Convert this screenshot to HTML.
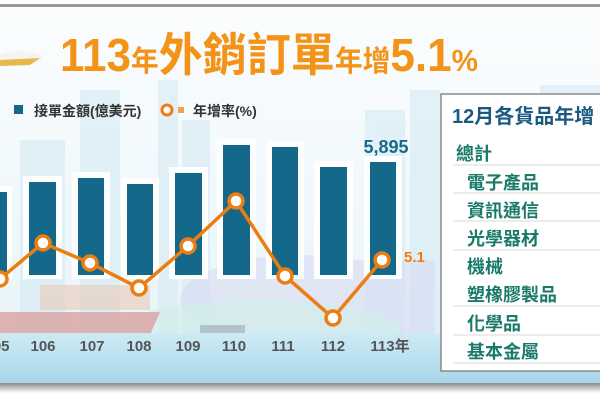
<!DOCTYPE html>
<html><head><meta charset="utf-8"><style>
body{margin:0;width:600px;height:400px;overflow:hidden;background:#fff;font-family:"Liberation Sans","Noto Sans CJK TC",sans-serif}
</style></head><body>
<svg width="600" height="400" xmlns="http://www.w3.org/2000/svg" style="position:absolute;left:0;top:0">
<defs>
<linearGradient id="sky" x1="0" y1="0" x2="0" y2="1"><stop offset="0" stop-color="#fbfdfe"/><stop offset="1" stop-color="#e6f3f8"/></linearGradient>
<linearGradient id="sea" x1="0" y1="0" x2="0" y2="1"><stop offset="0" stop-color="#cdebf4"/><stop offset="1" stop-color="#a9d6ea"/></linearGradient>
<linearGradient id="sh" x1="0" y1="0" x2="0" y2="1"><stop offset="0" stop-color="#8a8a8a"/><stop offset="1" stop-color="#fff"/></linearGradient>
</defs>
<rect x="0" y="0" width="600" height="400" fill="#fff"/>
<rect x="0" y="4" width="600" height="3" fill="#9a9a9a"/>
<rect x="0" y="7" width="600" height="376" fill="url(#sky)"/>
<g fill="#d6ebf5" opacity="0.6">
<rect x="20" y="140" width="45" height="200"/><rect x="80" y="90" width="40" height="250"/><rect x="158" y="80" width="20" height="260"/>
<rect x="182" y="120" width="28" height="220"/><rect x="365" y="110" width="40" height="230"/><rect x="410" y="90" width="30" height="250"/>
<rect x="540" y="85" width="60" height="20"/>
</g>
<g fill="#d9dcf2" opacity="0.6"><rect x="235" y="260" width="200" height="75"/><ellipse cx="300" cy="300" rx="120" ry="45"/></g>
<ellipse cx="260" cy="330" rx="140" ry="30" fill="#d2eeea" opacity="0.7"/>
<rect x="40" y="285" width="110" height="25" fill="#e8c9b5" opacity="0.6"/>
<path d="M0 312 L160 312 L150 335 L0 335Z" fill="#d9a3a0" opacity="0.8"/>
<rect x="200" y="325" width="45" height="8" fill="#9aa8b5" opacity="0.6"/>
<rect x="0" y="333" width="600" height="50" fill="url(#sea)"/>
<rect x="0" y="383" width="600" height="10" fill="url(#sh)"/>
<ellipse cx="20" cy="58" rx="22" ry="7" fill="#f4f4f0"/><path d="M0 60 L40 58 L30 65 L0 66Z" fill="#e7b84a"/>
<text x="60" y="71" fill="#f39418" font-weight="bold" font-size="46" textLength="418" lengthAdjust="spacingAndGlyphs">113<tspan font-size="29">年</tspan>外銷訂單<tspan font-size="29">年增</tspan>5.1<tspan font-size="31">%</tspan></text>
<rect x="14" y="105" width="9" height="9" fill="#14698a"/>
<text x="34" y="116" font-size="14" font-weight="bold" fill="#333">接單金額(億美元)</text>
<circle cx="167" cy="110" r="5" fill="#fff" stroke="#ec7d12" stroke-width="3"/>
<rect x="178" y="107" width="6" height="6" fill="#f5a04a"/>
<text x="193" y="116" font-size="14" font-weight="bold" fill="#333">年增率(%)</text>
<g fill="#fff" opacity="0.95">
<rect x="-4" y="186" width="16" height="93"/><rect x="23" y="176" width="39" height="103"/><rect x="72" y="172" width="38" height="107"/>
<rect x="121" y="178" width="38" height="101"/><rect x="169" y="167" width="39" height="112"/><rect x="217" y="139" width="39" height="140"/>
<rect x="266" y="141" width="38" height="138"/><rect x="314" y="161" width="39" height="118"/><rect x="364" y="156" width="38" height="123"/>
</g>
<g fill="#14698a">
<rect x="0" y="192" width="7" height="83"/><rect x="29" y="182" width="27" height="93"/><rect x="78" y="178" width="26" height="97"/>
<rect x="127" y="184" width="26" height="91"/><rect x="175" y="173" width="27" height="102"/><rect x="223" y="145" width="27" height="130"/>
<rect x="272" y="147" width="26" height="128"/><rect x="320" y="167" width="27" height="108"/><rect x="370" y="162" width="26" height="113"/>
</g>
<text x="386" y="153" text-anchor="middle" font-size="18" font-weight="bold" fill="#1a6a8a">5,895</text>
<polyline points="0,279 43,243 90,263 139,288 188,246 236,201 285,276 333,318 382,260" fill="none" stroke="#ec7d12" stroke-width="3.5"/>
<g fill="#fff" stroke="#ec7d12" stroke-width="3.5">
<circle cx="0" cy="279" r="7"/><circle cx="43" cy="243" r="7"/><circle cx="90" cy="263" r="7"/><circle cx="139" cy="288" r="7"/>
<circle cx="188" cy="246" r="7"/><circle cx="236" cy="201" r="7"/><circle cx="285" cy="276" r="7"/><circle cx="333" cy="318" r="7"/><circle cx="382" cy="260" r="7"/>
</g>
<text x="404" y="262" font-size="15" font-weight="bold" fill="#ec7d12">5.1</text>
<g font-size="15" font-weight="bold" fill="#555" text-anchor="middle">
<text x="-3" y="351">105</text><text x="43" y="351">106</text><text x="92" y="351">107</text><text x="139" y="351">108</text>
<text x="188" y="351">109</text><text x="234" y="351">110</text><text x="283" y="351">111</text><text x="333" y="351">112</text><text x="390" y="351">113年</text>
</g>
<rect x="441" y="94" width="165" height="277" fill="#fff" stroke="#8a8a8a" stroke-width="1.5"/>
<text x="452" y="123" font-size="20" font-weight="bold" fill="#1a5a80">12月各貨品年增</text>
<g stroke="#d8d8d8" stroke-width="1">
<line x1="453" y1="165" x2="600" y2="165"/><line x1="453" y1="193" x2="600" y2="193"/><line x1="453" y1="221" x2="600" y2="221"/>
<line x1="453" y1="250" x2="600" y2="250"/><line x1="453" y1="306" x2="600" y2="306"/><line x1="453" y1="335" x2="600" y2="335"/><line x1="453" y1="363" x2="600" y2="363"/>
</g>
<g font-size="18" fill="#1a7a6a" font-weight="bold">
<text x="456" y="160">總計</text><text x="467" y="189">電子產品</text><text x="467" y="217">資訊通信</text><text x="467" y="245">光學器材</text>
<text x="467" y="273">機械</text><text x="467" y="301">塑橡膠製品</text><text x="467" y="330">化學品</text><text x="467" y="358">基本金屬</text>
</g>
</svg>
</body></html>
